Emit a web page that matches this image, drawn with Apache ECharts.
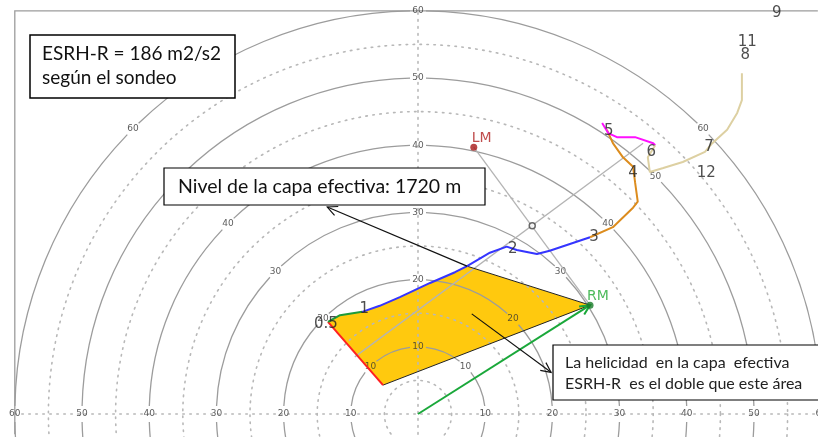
<!DOCTYPE html>
<html>
<head>
<meta charset="utf-8">
<script src="https://cdn.jsdelivr.net/npm/echarts@6/dist/echarts.min.js"></script>
<style>
html, body { margin: 0; padding: 0; background: #fff; }
#chart { width: 818px; height: 437px; }
</style>
</head>
<body>
<div id="chart"></div>
<script>
// hodograph, u / v components in kt
var ringsSolid = [10, 20, 30, 40, 50, 60];
var ringsDotted = [5, 15, 25, 35, 45, 55];
var ringLabelAngles = [0, 45, 90, 135, 180];

// wind layers (km)
var layer05 = [[-5.2, 4.3], [-13.4, 13.7]];
var layer1 = [[-13.4, 13.7], [-11.6, 14.7], [-8.3, 15.2]];
var layer3 = [[-8.3, 15.2], [-5.7, 16.1], [-2.7, 17.4], [1.8, 19.5], [5.5, 21.1], [7.3, 22.0], [10.7, 24.0], [13.2, 24.9], [14.7, 24.4], [17.7, 23.8], [19.6, 24.3], [25.6, 26.3]];
var layer5 = [[25.6, 26.3], [29.0, 27.8], [32.0, 30.7], [32.7, 31.6], [32.3, 34.5], [32.0, 36.8], [30.5, 38.2], [29.0, 40.3], [28.1, 42.3]];
var layer6 = [[27.4, 43.3], [28.3, 41.8], [29.6, 41.2], [32.3, 41.2], [35.0, 40.3], [35.3, 40.0]];
var layer12 = [[35.3, 40.0], [34.2, 38.2], [34.5, 36.0], [36.5, 36.6], [39.4, 37.5], [42.7, 39.0], [43.8, 40.3], [46.0, 42.3], [47.5, 44.8], [48.2, 46.7], [48.2, 50.7]];

var hgtText = ['0.5', '1', '2', '3', '4', '5', '6', '7', '8', '9', '11', '12'];
var hgtPos = [[-13.7, 13.4], [-8.0, 15.6], [14.1, 24.6], [26.2, 26.3], [32.0, 35.9], [28.4, 42.1], [34.7, 39.0], [43.3, 39.7], [48.7, 53.4], [53.4, 59.7], [49.0, 55.4], [42.9, 35.9]];

var rm = [25.6, 16.2];
var lm = [8.3, 39.7];
var meanWind = [17.0, 28.0];
var effIdx = 5; // punto de layer3 en el nivel efectivo (1720 m)
var shearLine = [[-9.4, 8.5], [33.5, 40.3]];

var motionArrow = [[0, 0], rm];
var levelArrow = [layer3[effIdx], [-13.5, 30.8]];
var areaArrow = [[8.0, 14.9], [19.8, 6.2]];

// visible window of the diagram
var uMin = -60, uMax = 59.5, vMin = -3, vMax = 60;
var pxPerKt = 6.72;

// area de helicidad
var areaPts = layer05.concat(layer1.slice(1), layer3.slice(1, effIdx + 1), [rm]);

var ringLabels = [];
ringsSolid.forEach(function (r) {
    ringLabelAngles.forEach(function (a) {
        var t = a * Math.PI / 180;
        ringLabels.push({ value: [r * Math.cos(t), r * Math.sin(t)], name: String(r) });
    });
});

var chart = echarts.init(document.getElementById('chart'));

function ringSolid(params, api) {
    var r = api.value(0);
    var c = api.coord([0, 0]);
    var rp = api.size([r, 0])[0];
    var g = 8 / rp;
    var cuts = [-Math.PI, -3 * Math.PI / 4, -Math.PI / 2, -Math.PI / 4, 0];
    var kids = [];
    function arc(s, e) {
        return {
            type: 'arc',
            shape: { cx: c[0], cy: c[1], r: rp, startAngle: s, endAngle: e, clockwise: true },
            style: { stroke: '#9c9c9c', fill: 'none', lineWidth: 1.3 }
        };
    }
    for (var i = 0; i < cuts.length - 1; i++) {
        kids.push(arc(cuts[i] + g, cuts[i + 1] - g));
    }
    kids.push(arc(g, Math.PI - g));
    return { type: 'group', children: kids };
}

function ringDotted(params, api) {
    var r = api.value(0);
    var c = api.coord([0, 0]);
    var rp = api.size([r, 0])[0];
    return {
        type: 'circle',
        shape: { cx: c[0], cy: c[1], r: rp },
        style: { fill: 'none', stroke: '#b8b8b8', lineWidth: 1.6, lineDash: [1.5, 5.5], lineCap: 'round' }
    };
}

function frameItem(params, api) {
    var pts = [api.coord([uMin, vMin]), api.coord([uMin, vMax]), api.coord([uMax, vMax])];
    return {
        type: 'polyline',
        shape: { points: pts },
        style: { stroke: '#9c9c9c', lineWidth: 1.3, fill: 'none' }
    };
}

var arrowSets = [motionArrow, levelArrow, areaArrow];
var arrowColors = ['#1aa83a', '#111', '#111'];
var arrowWidths = [2, 1.2, 1.2];

function arrowItem(params, api) {
    var i = params.dataIndex;
    var p0 = api.coord(arrowSets[i][0]);
    var p1 = api.coord(arrowSets[i][1]);
    var ang = Math.atan2(p1[1] - p0[1], p1[0] - p0[0]);
    var len = 11, spread = 0.45;
    var h1 = [p1[0] - len * Math.cos(ang - spread), p1[1] - len * Math.sin(ang - spread)];
    var h2 = [p1[0] - len * Math.cos(ang + spread), p1[1] - len * Math.sin(ang + spread)];
    var st = { stroke: arrowColors[i], lineWidth: arrowWidths[i], fill: 'none' };
    return {
        type: 'group',
        children: [
            { type: 'line', shape: { x1: p0[0], y1: p0[1], x2: p1[0], y2: p1[1] }, style: st },
            { type: 'polyline', shape: { points: [h1, p1, h2] }, style: st }
        ]
    };
}

function lineSeries(data, color, width, z) {
    return {
        type: 'line', data: data, showSymbol: false, silent: true, z: z,
        lineStyle: { color: color, width: width }
    };
}

var option = {
    animation: false,
    backgroundColor: '#fff',
    grid: {
        left: 14.8, top: 10.8,
        width: (uMax - uMin) * pxPerKt, height: (vMax - vMin) * pxPerKt,
        show: false
    },
    xAxis: {
        type: 'value', min: uMin, max: uMax, z: 3,
        axisLabel: { show: false }, axisTick: { show: false }, splitLine: { show: false },
        axisLine: { onZero: true, lineStyle: { color: '#b8b8b8', width: 1.6, type: [1.5, 5.5], cap: 'round' } }
    },
    yAxis: {
        type: 'value', min: vMin, max: vMax, z: 3,
        axisLabel: { show: false }, axisTick: { show: false }, splitLine: { show: false },
        axisLine: { onZero: true, lineStyle: { color: '#b8b8b8', width: 1.6, type: [1.5, 5.5], cap: 'round' } }
    },
    series: [
        {
            type: 'custom', z: 1, silent: true,
            data: [0],
            renderItem: function (params, api) {
                return {
                    type: 'polygon',
                    shape: { points: areaPts.map(function (p) { return api.coord(p); }) },
                    style: { fill: '#ffc90e', stroke: 'none' }
                };
            }
        },
        { type: 'custom', z: 2, silent: true, data: [0], renderItem: frameItem },
        { type: 'custom', z: 2, silent: true, data: ringsSolid.map(function (r) { return [r]; }), renderItem: ringSolid },
        { type: 'custom', z: 2, silent: true, data: ringsDotted.map(function (r) { return [r]; }), renderItem: ringDotted },
        {
            type: 'scatter', z: 4, silent: true, clip: false, data: ringLabels, symbolSize: 0.1,
            itemStyle: { color: 'rgba(0,0,0,0)' },
            label: { show: true, position: 'inside', formatter: '{b}', color: '#333', fontSize: 9, fontFamily: 'DejaVu Sans' }
        },
        lineSeries(shearLine, '#b4b4b4', 1.3, 5),
        lineSeries([lm, rm], '#b4b4b4', 1.3, 5),
        lineSeries([layer3[effIdx], rm, layer05[0]], '#222', 1, 5),
        lineSeries(layer05, '#ff2020', 2, 6),
        lineSeries(layer1, '#1e9a3a', 2, 6),
        lineSeries(layer3, '#3535ff', 2, 6),
        lineSeries(layer5, '#dc8c1e', 2, 6),
        lineSeries(layer6, '#ff10ff', 2, 6),
        lineSeries(layer12, '#ddd0a2', 2, 6),
        { type: 'custom', z: 7, silent: true, data: [0, 1, 2], renderItem: arrowItem },
        {
            type: 'scatter', z: 8, silent: true, symbolSize: 6,
            data: [{ value: meanWind }],
            itemStyle: { color: '#fff', borderColor: '#444', borderWidth: 1.5 }
        },
        {
            type: 'scatter', z: 8, silent: true, symbolSize: 7,
            data: [{ value: lm, name: 'LM' }],
            itemStyle: { color: '#a81818' },
            label: { show: true, formatter: '{b}', position: [1.5, -12.5], color: '#b02020', fontSize: 14, fontFamily: 'DejaVu Sans' }
        },
        {
            type: 'scatter', z: 8, silent: true, symbolSize: 7,
            data: [{ value: rm, name: 'RM' }],
            itemStyle: { color: '#187a28' },
            label: { show: true, formatter: '{b}', position: [0.5, -12.5], color: '#22aa33', fontSize: 14, fontFamily: 'DejaVu Sans' }
        },
        {
            type: 'scatter', z: 9, silent: true, clip: false, symbolSize: 0.1,
            data: hgtText.map(function (t, i) { return { value: hgtPos[i], name: t }; }),
            itemStyle: { color: 'rgba(0,0,0,0)' },
            label: { show: true, position: 'inside', formatter: '{b}', color: '#222', fontSize: 15, fontFamily: 'DejaVu Sans' }
        }
    ],
    graphic: [
        { type: 'rect', z: 100, shape: { x: 30, y: 35, width: 205, height: 63 }, style: { fill: '#fff', stroke: '#000', lineWidth: 1.5 } },
        { type: 'text', z: 101, x: 42, y: 42, style: { text: 'ESRH-R = 186 m2/s2\nsegún el sondeo', font: '19px Lato', fill: '#111', lineHeight: 24 } },
        { type: 'rect', z: 100, shape: { x: 164, y: 168, width: 321, height: 37 }, style: { fill: '#fff', stroke: '#000', lineWidth: 1.2 } },
        { type: 'text', z: 101, x: 178, y: 187, style: { text: 'Nivel de la capa efectiva: 1720 m', font: '19.5px Lato', fill: '#111', verticalAlign: 'middle' } },
        { type: 'rect', z: 100, shape: { x: 553, y: 345, width: 280, height: 55 }, style: { fill: '#fff', stroke: '#000', lineWidth: 1.2 } },
        { type: 'text', z: 101, x: 565, y: 352, style: { text: 'La helicidad  en la capa  efectiva\nESRH-R  es el doble que este área', font: '16px Lato', fill: '#222', lineHeight: 21 } }
    ]
};
chart.setOption(option);
</script>
</body>
</html>
